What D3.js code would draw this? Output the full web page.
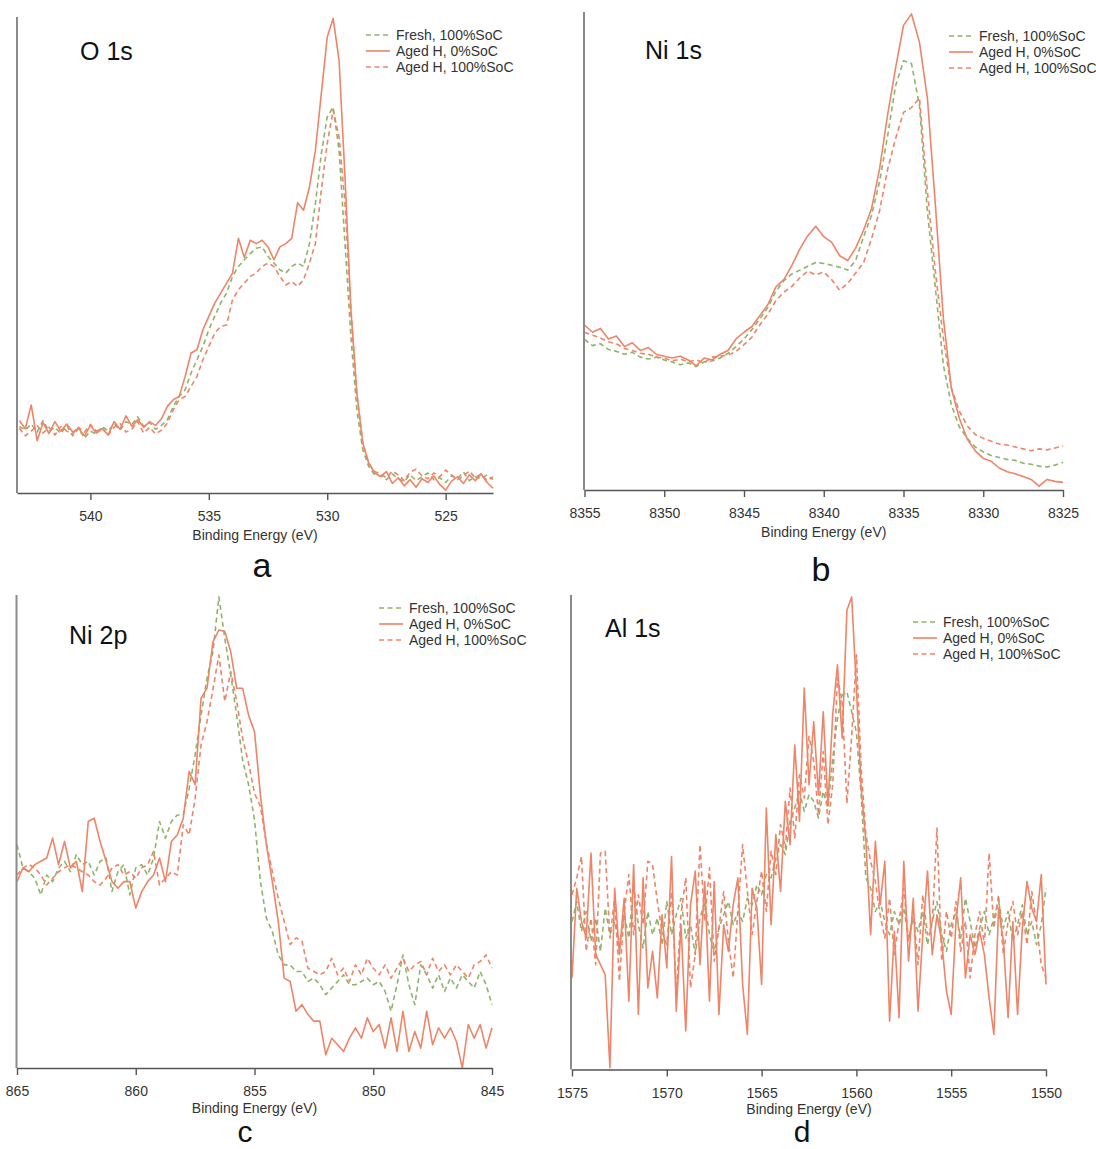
<!DOCTYPE html>
<html><head><meta charset="utf-8">
<script src="https://cdn.jsdelivr.net/npm/d3@7"></script>
<style>
body{margin:0;background:#fff}
svg{display:block}
text{font-family:"Liberation Sans",Arial,Helvetica,sans-serif}
</style>
</head><body>
<svg id="chart" width="1096" height="1149"></svg>
<script>
// ---- legend / series ----
const seriesNames = ["Fresh, 100%SoC", "Aged H, 0%SoC", "Aged H, 100%SoC"];
const seriesColors = ["#8db46a", "#ee8468", "#ee8468"];
const seriesDash = ["5,3.5", null, "5,3.5"];

// ---- panel a: O 1s (543 -> 523 eV, 0.25 eV grid) ----
const aTicks = [540, 535, 530, 525];
const aFresh = [14.0,13.2,14.5,12.8,15.2,13.0,13.8,12.5,14.2,12.0,13.6,11.5,13.0,12.4,14.0,13.0,14.6,13.2,15.0,14.4,16.0,14.0,14.8,13.4,14.2,
15.4,18.2,20.3,21.7,25.2,28.0,30.8,34.3,37.1,39.9,42.0,45.5,47.6,49.0,50.3,51.4,51.7,49.7,48.3,46.9,46.2,47.6,48.3,47.6,52.4,60.8,71.3,79.0,81.1,72.0,52.4,32.9,17.5,9.1,5.6,3.8,
3.6,2.8,4.0,3.0,2.4,3.8,2.6,3.4,4.2,2.8,3.2,2.2,3.6,3.0,4.4,2.6,3.4,3.0,3.8,2.8];
const aAged0 = [15.2,13.5,18.5,11.0,14.8,12.5,15.0,13.0,14.5,12.8,13.6,12.0,14.2,12.6,13.5,12.2,15.0,13.4,16.2,14.0,15.4,13.8,15.0,14.2,15.6,
18.2,19.6,20.3,24.5,29.4,30.1,34.3,37.1,39.9,42.0,44.1,46.2,53.5,49.5,53.1,52.4,53.1,51.7,49.0,51.7,52.4,53.5,61.0,59.4,64.3,72.0,83.9,95.8,99.7,90.9,66.4,38.5,21.0,10.5,6.3,4.2,
3.5,4.5,2.0,3.2,1.5,2.8,1.2,3.0,2.2,3.6,1.8,0.6,2.5,3.4,2.0,3.8,2.6,4.0,2.2,1.0];
const aAged100 = [13.6,12.0,13.0,14.2,12.6,13.8,12.2,14.0,13.0,12.4,13.8,12.8,14.4,13.0,13.6,12.2,13.8,14.6,12.8,13.4,15.0,12.6,13.8,12.4,13.2,
14.7,17.5,19.6,20.3,22.4,24.5,28.0,30.8,33.6,35.0,35.3,40.6,42.7,44.1,45.5,46.2,47.6,48.3,47.6,45.5,43.7,44.4,43.4,44.8,48.3,52.4,63.6,73.4,80.4,74.8,60.8,38.5,21.0,10.5,6.3,4.5,
4.0,3.2,4.6,3.8,2.6,4.4,5.0,3.6,3.0,4.2,3.4,4.8,3.8,2.8,3.6,4.6,3.2,4.0,2.6,3.4];

// ---- panel b: Ni 1s (8355 -> 8325 eV, 0.5 eV grid) ----
const bTicks = [8355, 8350, 8345, 8340, 8335, 8330, 8325];
const bFresh = [31.5,30.2,30.6,29.4,29.0,28.4,28.8,27.8,27.4,27.8,
27.2,26.8,26.2,26.6,25.8,26.8,27.0,27.6,28.6,30.0,
31.6,33.6,35.8,38.2,41.6,43.8,45.2,46.0,46.8,47.6,
47.4,47.0,46.6,46.0,48.0,53.0,57.5,64.5,74.0,84.5,
89.8,89.2,80.5,58.2,42.2,26.1,17.8,13.2,10.8,9.0,
8.0,7.2,6.8,6.4,6.2,5.6,5.4,5.0,4.8,5.2,5.8];
const bAged0 = [34.5,33.0,33.8,31.6,32.2,30.0,30.8,29.2,29.8,28.4,
28.0,27.6,28.0,27.2,26.0,27.6,27.2,28.4,29.2,31.6,
33.0,34.2,36.5,38.8,42.5,44.0,47.0,50.4,53.2,55.2,
53.0,51.8,49.0,48.0,50.6,54.4,58.9,67.2,78.4,88.2,
97.2,99.6,93.7,81.9,59.6,35.9,21.3,15.0,10.6,8.2,
6.6,6.0,4.6,3.8,3.4,2.8,2.2,0.8,2.2,1.8,1.6];
const bAged100 = [33.0,32.4,31.8,31.0,30.6,29.6,29.2,28.6,28.4,27.8,
27.6,27.0,27.4,26.8,27.2,26.6,27.8,28.0,28.2,29.0,
30.4,32.0,34.6,36.8,39.6,41.4,42.6,44.4,45.8,45.0,
45.6,44.0,41.8,43.2,45.4,47.6,52.6,58.4,67.0,73.5,
79.0,80.0,82.0,62.4,45.6,31.7,21.3,16.5,13.4,11.6,
10.8,10.2,9.6,9.4,9.0,8.6,8.2,8.6,8.4,8.8,9.2];

// ---- panel c: Ni 2p (865 -> 845 eV, 0.25 eV grid) ----
const cTicks = [865, 860, 855, 850, 845];
const cFresh = [47.2,42.3,41.5,40.1,36.6,40.8,39.4,42.3,43.7,41.5,
45.1,43.0,43.7,40.8,43.7,44.4,37.3,41.5,43.0,36.6,
42.3,43.0,40.8,44.4,52.1,48.6,52.1,53.5,53.5,59.2,
66.2,74.6,82.4,88.0,99.6,90.8,83.1,74.6,65.1,59.9,
52.5,39.4,31.7,28.9,23.9,21.8,21.8,20.4,20.4,18.3,
19.0,17.6,15.5,16.9,18.3,19.7,17.6,17.6,18.3,19.0,
17.6,18.3,16.2,12.0,17.6,23.9,17.6,13.4,21.8,19.7,
16.9,19.7,16.2,19.0,16.9,19.7,18.3,16.9,20.4,17.6,
13.4];
const cAged0 = [39.4,42.3,41.5,43.0,43.7,44.4,48.6,43.0,47.9,42.3,
43.7,37.3,52.1,52.8,47.9,43.7,39.4,38.0,39.4,39.4,
33.8,37.3,39.4,40.8,44.4,39.4,47.9,49.3,52.8,62.7,
59.9,78.2,80.3,90.1,92.6,92.3,88.0,80.3,80.3,74.6,
71.1,57.7,47.2,39.4,31.0,19.0,18.3,12.0,13.4,11.3,
9.9,9.9,2.8,6.3,4.9,3.5,6.3,8.5,6.3,10.6,
7.7,9.2,4.2,10.6,3.5,12.0,3.5,7.7,4.2,12.0,
4.9,8.5,6.3,8.5,5.6,0.0,9.2,6.3,9.2,4.2,
8.5];
const cAged100 = [40.8,42.3,43.0,42.3,40.8,38.7,40.1,41.5,42.3,43.0,
42.3,41.5,40.8,39.4,38.7,40.1,42.3,43.0,40.8,41.5,
40.1,42.3,43.0,45.8,38.7,40.1,41.5,40.8,51.4,49.3,
57.0,68.3,73.2,80.0,87.3,77.5,83.8,77.5,69.7,64.4,
58.1,55.3,47.5,41.5,35.9,31.0,26.1,27.5,26.8,21.1,
20.4,19.7,20.4,23.2,19.7,21.1,18.3,21.8,19.7,23.2,
21.1,19.7,21.8,19.0,21.1,23.2,20.4,21.8,22.5,19.7,
23.2,20.4,21.8,19.7,21.8,20.4,19.0,21.8,22.5,23.9,
21.1];

// ---- panel d: Al 1s (1575 -> 1550 eV, 0.25 eV grid) ----
const dTicks = [1575, 1570, 1565, 1560, 1555, 1550];
const dFresh = [31.2,35.4,29.1,33.3,27.0,31.9,24.9,34.0,28.4,31.2,
26.3,32.6,27.7,38.9,30.5,25.6,33.3,28.4,31.9,26.3,
35.4,28.4,32.6,36.1,27.7,30.5,24.2,31.9,35.4,28.4,
24.9,29.8,32.6,35.4,30.5,33.3,31.2,36.1,34.7,38.9,
36.8,41.1,40.4,44.6,47.4,45.3,52.3,55.1,58.6,54.4,
57.9,56.5,53.0,58.6,55.1,65.6,74.0,78.9,79.6,75.4,
71.1,57.9,40.4,38.2,33.3,35.4,31.2,28.4,33.3,30.5,
34.0,27.7,31.9,29.1,33.3,26.3,31.2,35.4,28.4,24.9,
30.5,33.3,27.7,36.1,31.2,25.6,29.8,33.3,28.4,31.9,
35.4,29.8,33.3,27.0,30.5,34.7,28.4,31.2,26.3,30.5,
38.2];
const dAged0 = [19.3,38.2,31.2,27.7,45.6,24.2,22.1,20.0,0.4,38.2,
24.2,36.1,14.4,43.2,11.6,40.4,17.2,24.9,15.1,32.6,
21.4,44.9,12.3,30.5,8.1,34.7,41.8,22.1,39.6,14.4,
39.6,11.6,30.5,24.9,34.7,40.4,17.9,7.4,38.2,34.0,
17.9,55.1,30.5,49.5,37.5,56.5,47.4,68.4,52.3,80.4,
60.0,73.3,57.9,75.4,55.8,74.7,85.3,69.8,96.8,99.6,
80.4,59.3,48.1,28.4,48.1,34.7,43.9,10.2,29.1,10.9,
43.9,22.8,36.1,12.3,28.4,41.8,24.2,32.6,27.0,16.5,
11.6,31.2,40.4,19.3,28.4,24.2,29.1,24.2,15.1,7.4,
34.0,27.0,10.9,31.2,11.6,29.8,39.6,34.0,31.2,41.1,
17.9];
const dAged100 = [36.8,40.4,44.9,24.9,31.9,22.1,45.6,46.0,27.7,36.1,
18.6,33.3,41.1,28.4,36.8,30.5,43.9,43.2,35.4,29.1,
26.3,37.5,16.5,32.6,40.4,17.2,24.2,47.4,31.2,42.5,
22.8,29.8,37.5,27.0,19.3,33.3,47.4,37.5,28.4,35.4,
41.8,33.3,46.0,41.1,51.6,46.7,59.3,48.8,62.1,57.2,
70.2,64.9,53.7,67.0,51.6,60.0,82.5,77.5,56.1,70.2,
87.4,63.5,49.5,43.9,39.6,32.6,27.7,36.1,24.2,31.2,
38.2,27.0,33.3,22.1,36.8,28.4,30.5,50.9,22.8,33.3,
27.7,35.4,24.9,31.2,19.3,28.4,33.3,26.3,45.6,29.8,
36.8,24.2,31.2,35.4,28.4,33.3,26.3,37.5,30.5,22.1,
19.3];

const panelTitles = ["O 1s", "Ni 1s", "Ni 2p", "Al 1s"];
const panelLetters = ["a", "b", "c", "d"];
const axisTitle = "Binding Energy (eV)";

// layout (positions/styles only)
const layout = [
  {start:543,  step:-0.25, dom:[543.1,523], xr:[17,493],    yAxisX:17,  yTop:17,  yBot:493,   titleX:80,  titleY:60,  legX:366, legY:35,  letterX:262, letterY:577,  letterSize:34, axTitleOff:47, ticks:aTicks, series:[aFresh,aAged0,aAged100]},
  {start:8355, step:-0.5,  dom:[8355,8325], xr:[584.5,1063],yAxisX:584, yTop:12,  yBot:490,   titleX:645, titleY:59,  legX:949, legY:36,  letterX:821, letterY:581,  letterSize:34, axTitleOff:47, ticks:bTicks, series:[bFresh,bAged0,bAged100]},
  {start:865,  step:-0.25, dom:[865,845],   xr:[17,492],    yAxisX:16.5,yTop:595, yBot:1068,  titleX:69,  titleY:644, legX:379, legY:608, letterX:245, letterY:1142, letterSize:30, axTitleOff:45, ticks:cTicks, series:[cFresh,cAged0,cAged100]},
  {start:1575, step:-0.25, dom:[1575,1550], xr:[572,1046],  yAxisX:571, yTop:595, yBot:1069.5,titleX:605, titleY:637, legX:913, legY:622, letterX:802, letterY:1142, letterSize:30, axTitleOff:44, ticks:dTicks, series:[dFresh,dAged0,dAged100]}
];

const svg = d3.select("#chart");

layout.forEach((p, pi) => {
  const g = svg.append("g");
  const x = d3.scaleLinear().domain(p.dom).range(p.xr);
  const y = d3.scaleLinear().domain([0, 100]).range([p.yBot, p.yTop]);

  // series lines
  const line = d3.line().x(d => x(d[0])).y(d => y(d[1]));
  p.series.forEach((vals, si) => {
    const pts = vals.map((v, i) => [p.start + p.step * i, v]);
    g.append("path")
      .datum(pts)
      .attr("d", line)
      .attr("fill", "none")
      .attr("stroke", seriesColors[si])
      .attr("stroke-width", 1.6)
      .attr("stroke-linejoin", "round")
      .attr("stroke-dasharray", seriesDash[si]);
  });

  // y axis line (no ticks)
  g.append("line")
    .attr("x1", p.yAxisX).attr("x2", p.yAxisX)
    .attr("y1", p.yTop).attr("y2", p.yBot)
    .attr("stroke", "#8a8a8a").attr("stroke-width", 2);

  // x axis
  const ax = g.append("g")
    .attr("transform", `translate(0,${p.yBot})`)
    .call(d3.axisBottom(x).tickValues(p.ticks).tickSize(7).tickSizeOuter(0).tickFormat(d3.format("d")));
  ax.select(".domain").attr("stroke", "#555").attr("stroke-width", 1.4);
  ax.selectAll(".tick line").attr("stroke", "#555").attr("stroke-width", 1.4);
  ax.selectAll(".tick text")
    .attr("y", 28).attr("dy", null)
    .attr("fill", "#333")
    .style("font-size", "14px")
    .style("font-family", "'Liberation Sans', Arial, sans-serif");

  // axis title
  g.append("text")
    .attr("x", (p.xr[0] + p.xr[1]) / 2)
    .attr("y", p.yBot + p.axTitleOff)
    .attr("text-anchor", "middle")
    .attr("fill", "#333")
    .style("font-size", "14px")
    .text(axisTitle);

  // panel element title
  g.append("text")
    .attr("x", p.titleX).attr("y", p.titleY)
    .attr("fill", "#111")
    .style("font-size", "25px")
    .text(panelTitles[pi]);

  // panel letter
  g.append("text")
    .attr("x", p.letterX).attr("y", p.letterY)
    .attr("text-anchor", "middle")
    .attr("fill", "#111")
    .style("font-size", p.letterSize + "px")
    .text(panelLetters[pi]);

  // legend
  seriesNames.forEach((name, si) => {
    const ly = p.legY + si * 16;
    g.append("line")
      .attr("x1", p.legX).attr("x2", p.legX + 24)
      .attr("y1", ly).attr("y2", ly)
      .attr("stroke", seriesColors[si]).attr("stroke-width", 1.6)
      .attr("stroke-dasharray", seriesDash[si]);
    g.append("text")
      .attr("x", p.legX + 30).attr("y", ly)
      .attr("dy", "0.35em")
      .attr("fill", "#333")
      .style("font-size", "14px")
      .text(name);
  });
});
</script>
</body></html>
